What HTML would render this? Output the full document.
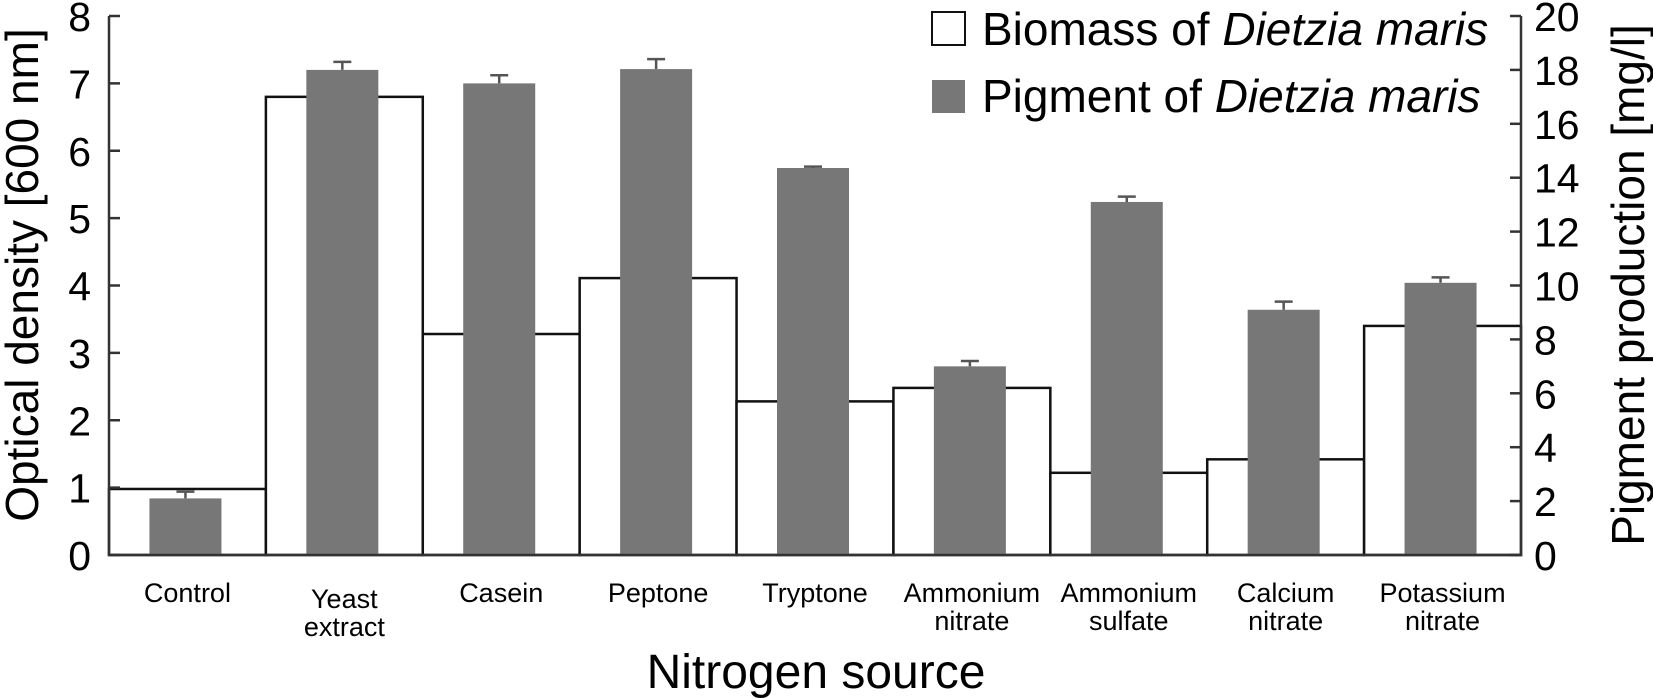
<!DOCTYPE html>
<html><head><meta charset="utf-8"><style>
html,body{margin:0;padding:0;background:#fff;}
svg{display:block;font-family:"Liberation Sans",Arial,sans-serif;}
</style></head><body>
<svg id="chart" width="1653" height="698" viewBox="0 0 1653 698" xmlns="http://www.w3.org/2000/svg">
<g id="plot"></g>
<g id="axes"></g>
<text transform="translate(38,275) rotate(-90)" text-anchor="middle" font-size="46">Optical density [600 nm]</text>
<text transform="translate(1644,285) rotate(-90)" text-anchor="middle" font-size="46">Pigment production [mg/l]</text>
<text x="816" y="688" text-anchor="middle" font-size="48">Nitrogen source</text>
<g>
<rect x="932" y="12" width="33" height="33" fill="#fff" stroke="#111" stroke-width="2"/>
<text x="982" y="45" font-size="46">Biomass of <tspan font-style="italic">Dietzia maris</tspan></text>
<rect x="932" y="80" width="33" height="33" fill="#777"/>
<text x="982" y="112" font-size="46">Pigment of <tspan font-style="italic">Dietzia maris</tspan></text>
</g>
</svg>
<script>
const categories = [["Control"],["Yeast","extract"],["Casein"],["Peptone"],["Tryptone"],["Ammonium","nitrate"],["Ammonium","sulfate"],["Calcium","nitrate"],["Potassium","nitrate"]];
const biomass = [0.98, 6.8, 3.28, 4.11, 2.28, 2.48, 1.22, 1.42, 3.4];
const pigment = [2.1, 18.0, 17.5, 18.03, 14.36, 7.0, 13.1, 9.1, 10.1];
const pigmentErr = [0.25, 0.3, 0.3, 0.37, 0.05, 0.2, 0.2, 0.3, 0.2];
const leftTicks = [0,1,2,3,4,5,6,7,8];
const rightTicks = [0,2,4,6,8,10,12,14,16,18,20];

const NS = "http://www.w3.org/2000/svg";
const X0 = 109, X1 = 1521, Y0 = 555, Ytop = 16;
const bw = (X1 - X0) / categories.length;
function yL(v){ return Y0 - v / 8 * (Y0 - Ytop); }
function yR(v){ return Y0 - v / 20 * (Y0 - Ytop); }
function xC(i){ return X0 + bw * (i + 0.5); }
function mk(tag, attrs, parent){ const e = document.createElementNS(NS, tag); for (const k in attrs) e.setAttribute(k, attrs[k]); parent.appendChild(e); return e; }
const plot = document.getElementById('plot'), axes = document.getElementById('axes'), svg = document.getElementById('chart');

categories.forEach((c, i) => {
  const r = mk('rect', {x: X0 + bw*i, y: yL(biomass[i]), width: bw, height: Y0 - yL(biomass[i]), fill: '#fff', stroke: '#111', 'stroke-width': 2.5}, plot);
  
  
});
categories.forEach((c, i) => {
  const cx = xC(i) - 2, top = yR(pigment[i]), et = yR(pigment[i] + pigmentErr[i]);
  const e = mk('path', {d: `M${cx},${top} V${et} M${cx-9},${et} H${cx+9}`, stroke: '#555', 'stroke-width': 2.5, fill: 'none'}, plot);
  
  
  const r = mk('rect', {x: cx - 36, y: top, width: 72, height: Y0 - top, fill: '#777'}, plot);
  
  
  const t = mk('text', {x: xC(i), 'text-anchor': 'middle', 'font-size': 27}, svg);
  
  
  const base = c[0] === 'Yeast' ? 608 : 602;
  c.forEach((line, j) => { const s = mk('tspan', {x: xC(i), y: base + j*28}, t); s.textContent = line; });
});
const la = mk('path', {d: `M${X0},${Ytop} V${Y0} H${X1} V${Ytop}`, stroke: '#333', 'stroke-width': 2.5, fill: 'none'}, axes);


leftTicks.forEach(v => {
  const y = yL(v);
  const tk = mk('line', {x1: X0, x2: X0 + 11, y1: y, y2: y, stroke: '#333', 'stroke-width': 2.5}, axes);
  
  
  const t = mk('text', {x: 91, y: y + 15, 'text-anchor': 'end', 'font-size': 41}, svg);
  
  
  t.textContent = v;
});
rightTicks.forEach(v => {
  const y = yR(v);
  const tk = mk('line', {x1: X1 - 11, x2: X1, y1: y, y2: y, stroke: '#333', 'stroke-width': 2.5}, axes);
  
  
  const t = mk('text', {x: 1534, y: y + 15, 'text-anchor': 'start', 'font-size': 41}, svg);
  
  
  t.textContent = v;
});
</script>
</body></html>
